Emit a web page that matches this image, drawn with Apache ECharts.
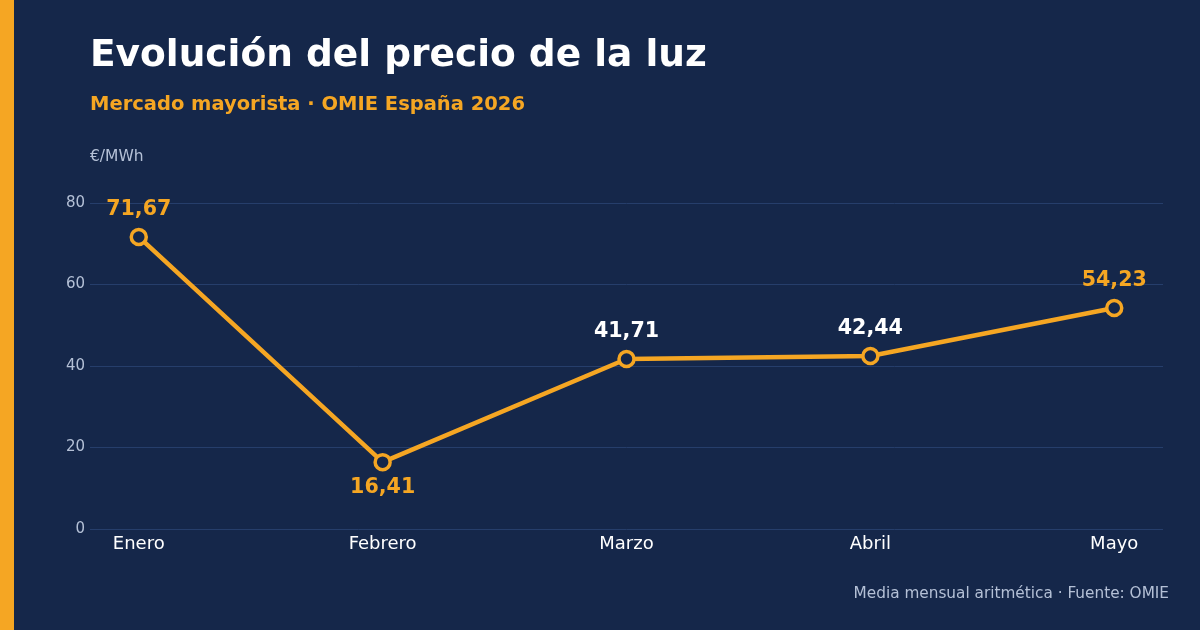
<!DOCTYPE html>
<html>
<head>
<meta charset="utf-8">
<script src="https://cdn.jsdelivr.net/npm/echarts@6/dist/echarts.min.js"></script>
<style>
html,body{margin:0;padding:0;background:#15274A;}
#c{width:1200px;height:630px;}
</style>
</head>
<body>
<div id="c"></div>
<script>
const months = ['Enero', 'Febrero', 'Marzo', 'Abril', 'Mayo'];
const prices = [71.67, 16.41, 41.71, 42.44, 54.23];
const yTicks = [0, 20, 40, 60, 80];
const highlight = [true, true, false, false, true];
const labelBelow = [false, true, false, false, false];

const ORANGE = '#F5A623';
const BG = '#15274A';
const MUTED = '#b4c0d6';
const fmt = v => v.toFixed(2).replace('.', ',');

const chart = echarts.init(document.getElementById('c'), null, {renderer: 'canvas'});
const FONT = 'DejaVu Sans';

chart.setOption({
  backgroundColor: BG,
  animation: false,
  textStyle: {fontFamily: FONT},
  title: [
    {text: 'Evolución del precio de la luz', left: 90, top: 37, padding: 0,
     textStyle: {color: '#ffffff', fontSize: 37.5, fontWeight: 'bold', fontFamily: FONT}},
    {text: 'Mercado mayorista · OMIE España 2026', left: 90, top: 95, padding: 0,
     textStyle: {color: ORANGE, fontSize: 19.5, fontWeight: 'bold', fontFamily: FONT}},
    {text: '€/MWh', left: 90, top: 149, padding: 0,
     textStyle: {color: MUTED, fontSize: 15.5, fontWeight: 'normal', fontFamily: FONT}},
    {text: 'Media mensual aritmética · Fuente: OMIE', right: 31, top: 587, padding: 0,
     textStyle: {color: MUTED, fontSize: 15.3, fontWeight: 'normal', fontFamily: FONT}}
  ],
  graphic: [
    {type: 'rect', left: 0, top: 0, shape: {width: 14, height: 630}, style: {fill: ORANGE}}
  ],
  grid: {left: 90, right: 37, top: 203, bottom: 101, containLabel: false},
  xAxis: {
    type: 'value', min: -0.2, max: 4.2,
    axisLine: {show: false}, axisTick: {show: false}, splitLine: {show: false},
    axisLabel: {
      customValues: months.map((m, i) => i),
      formatter: v => months[Math.round(v)],
      color: '#ffffff', fontSize: 18, margin: 6, fontFamily: FONT
    }
  },
  yAxis: {
    type: 'value', min: 0, max: 80, interval: 20,
    axisLine: {show: false}, axisTick: {show: false},
    splitLine: {lineStyle: {color: '#263e6b', width: 1}},
    axisLabel: {color: MUTED, fontSize: 15, margin: 5, fontFamily: FONT,
      formatter: v => yTicks.includes(v) ? String(v) : ''}
  },
  series: [{
    type: 'line',
    data: prices.map((v, i) => ({
      value: [i, v],
      label: {
        position: labelBelow[i] ? 'bottom' : 'top',
        distance: labelBelow[i] ? 6 : 8,
        color: highlight[i] ? ORANGE : '#ffffff'
      }
    })),
    lineStyle: {color: ORANGE, width: 4.5},
    symbol: 'circle', symbolSize: 15,
    itemStyle: {color: BG, borderColor: ORANGE, borderWidth: 3.5},
    label: {
      show: true, fontSize: 20.6, fontWeight: 'bold', fontFamily: FONT,
      formatter: p => fmt(p.value[1])
    },
    z: 3
  }]
});
</script>
</body>
</html>
